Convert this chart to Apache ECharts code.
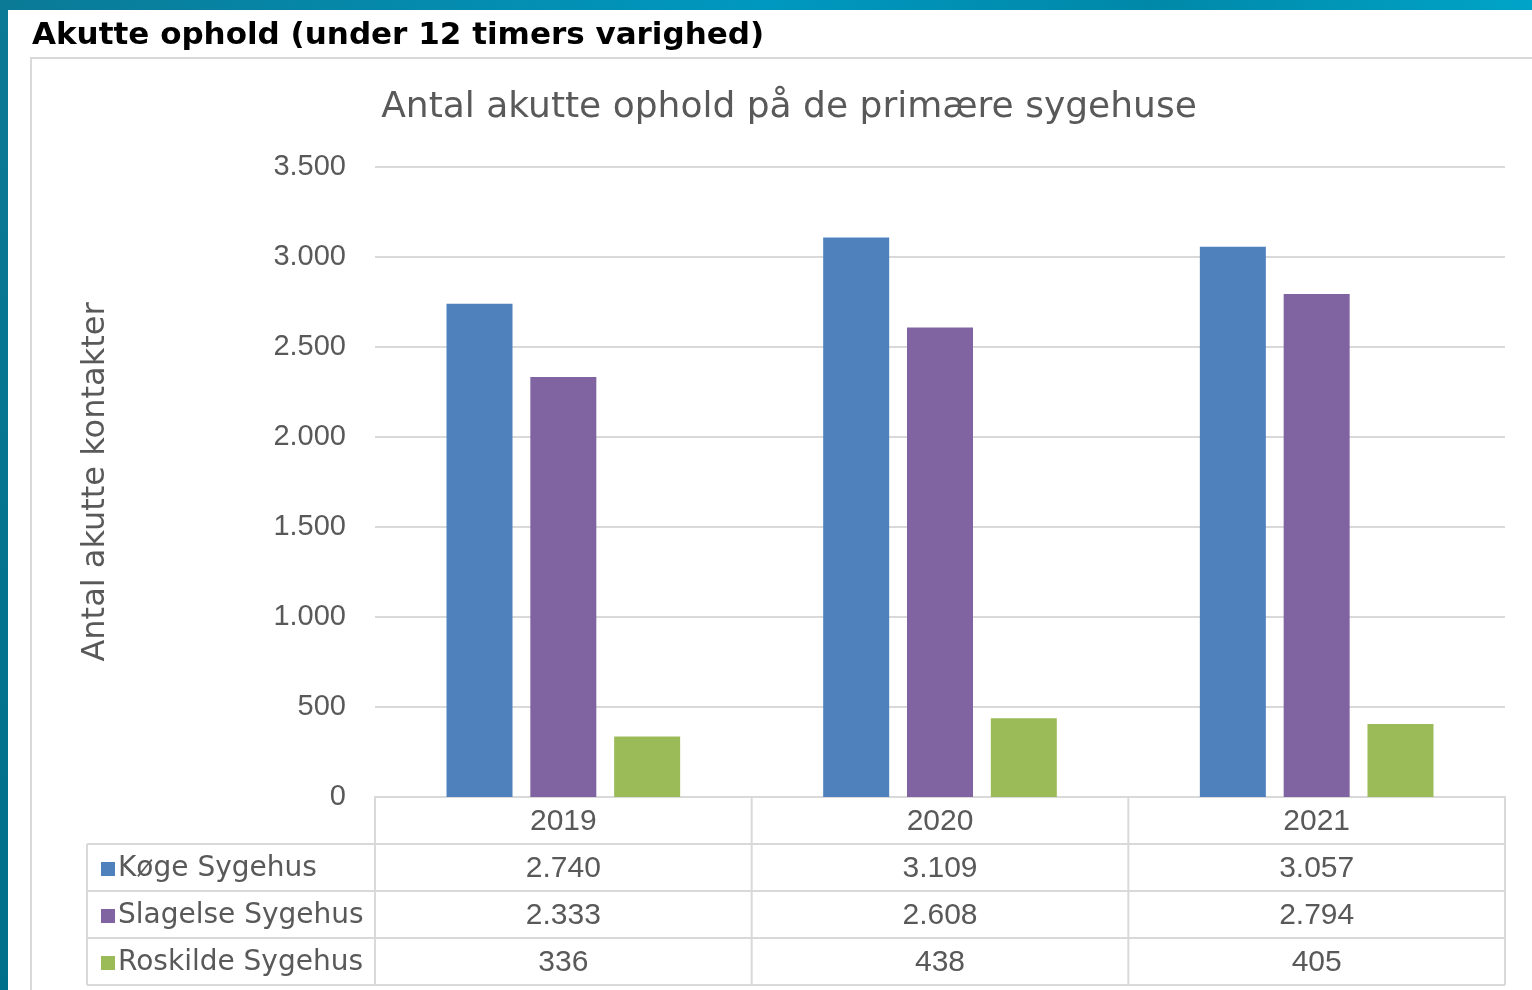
<!DOCTYPE html>
<html>
<head>
<meta charset="utf-8">
<script src="https://cdn.jsdelivr.net/npm/echarts@6/dist/echarts.min.js"></script>
<style>
html,body{margin:0;padding:0;width:1532px;height:990px;overflow:hidden;background:#fff;}
#c{width:1532px;height:990px;}
</style>
</head>
<body>
<div id="c"></div>
<script>
const categories = ['2019', '2020', '2021'];
const seriesNames = ['Køge Sygehus', 'Slagelse Sygehus', 'Roskilde Sygehus'];
const koege = [2740, 3109, 3057];
const slagelse = [2333, 2608, 2794];
const roskilde = [336, 438, 405];
const yTicks = [0, 500, 1000, 1500, 2000, 2500, 3000, 3500];
const pageTitle = 'Akutte ophold (under 12 timers varighed)';
const chartTitle = 'Antal akutte ophold på de primære sygehuse';
const yAxisTitle = 'Antal akutte kontakter';

const seriesValues = [koege, slagelse, roskilde];
const colors = ['#4f81bd', '#8064a2', '#9bbb59'];
const FONT = '"DejaVu Sans", Lato, sans-serif';
const NUMFONT = '"Liberation Sans", Arial, sans-serif';
const TXT = '#595959';
const LINE = '#d9d9d9';

function fmt(v) { return String(v).replace(/\B(?=(\d{3})+(?!\d))/g, '.'); }

const G = { left: 375, right: 27, top: 167, bottom: 193 };
const W = 1532, H = 990;
const gx0 = G.left, gx1 = W - G.right, gy1 = H - G.bottom;
const rowH = 47;
const tableLeft = 87;

const graphics = [];
// blue frame
graphics.push({ type: 'rect', shape: { x: 0, y: 0, width: W, height: 10 }, style: { fill: new echarts.graphic.LinearGradient(0, 0, 1, 0, [{ offset: 0, color: '#0a7a96' }, { offset: 0.5, color: '#0098c0' }, { offset: 0.75, color: '#0088a8' }, { offset: 1, color: '#00a4c8' }]) }, z: 0 });
graphics.push({ type: 'rect', shape: { x: 0, y: 0, width: 8, height: H }, style: { fill: new echarts.graphic.LinearGradient(0, 0, 0, 1, [{ offset: 0, color: '#0a7a96' }, { offset: 1, color: '#006f8a' }]) }, z: 0 });
// chart box border
graphics.push({ type: 'polyline', shape: { points: [[31, H], [31, 58], [W, 58]] }, style: { stroke: LINE, lineWidth: 2, fill: null }, z: 1 });
// page title
graphics.push({ type: 'text', left: 32, top: 20, style: { text: pageTitle, font: 'bold 31px ' + FONT, fill: '#000' }, z: 2 });

// table lines
const colW = (gx1 - gx0) / categories.length;
const tableBottom = gy1 + rowH * (seriesNames.length + 1);
for (let r = 1; r <= seriesNames.length + 1; r++) {
  const y = gy1 + r * rowH;
  graphics.push({ type: 'line', shape: { x1: tableLeft, y1: y, x2: gx1, y2: y }, style: { stroke: LINE, lineWidth: 2 }, z: 1 });
}
graphics.push({ type: 'line', shape: { x1: tableLeft, y1: gy1 + rowH, x2: tableLeft, y2: tableBottom }, style: { stroke: LINE, lineWidth: 2 }, z: 1 });
for (let i = 0; i <= categories.length; i++) {
  const x = gx0 + i * colW;
  graphics.push({ type: 'line', shape: { x1: x, y1: gy1, x2: x, y2: tableBottom }, style: { stroke: LINE, lineWidth: 2 }, z: 1 });
}

const option = {
  backgroundColor: '#fff',
  animation: false,
  title: {
    text: chartTitle,
    left: 784, textAlign: 'center', top: 85,
    textStyle: { fontFamily: FONT, fontSize: 36, fontWeight: 'normal', color: TXT }
  },
  legend: {
    orient: 'vertical',
    left: 96, top: 849,
    itemWidth: 14, itemHeight: 14, itemGap: 17,
    icon: 'rect',
    data: seriesNames,
    textStyle: { fontFamily: FONT, fontSize: 28, color: TXT, lineHeight: 30, padding: [0, 0, 0, -2] },
    selectedMode: false
  },
  grid: { left: G.left, right: G.right, top: G.top, bottom: G.bottom, containLabel: false },
  xAxis: {
    type: 'category',
    data: categories,
    axisLine: { show: true, lineStyle: { color: LINE, width: 2 } },
    axisTick: { show: false },
    axisLabel: {
      margin: 1,
      interval: 0,
      formatter: function (v, idx) {
        const lines = [v];
        seriesValues.forEach(s => lines.push(fmt(s[idx])));
        return lines.join('\n');
      },
      fontFamily: NUMFONT, fontSize: 30, color: TXT, lineHeight: rowH
    }
  },
  yAxis: {
    type: 'value',
    min: 0, max: 3500, interval: 500,
    name: yAxisTitle,
    nameLocation: 'middle',
    nameRotate: 90,
    nameGap: 263,
    nameTextStyle: { fontFamily: FONT, fontSize: 32, color: TXT },
    axisLine: { show: false },
    axisTick: { show: false },
    splitLine: { lineStyle: { color: LINE, width: 2 } },
    axisLabel: {
      margin: 29,
      fontFamily: NUMFONT, fontSize: 29, color: TXT,
      formatter: function (v) { return yTicks.indexOf(v) >= 0 ? fmt(v) : ''; }
    }
  },
  series: seriesNames.map((n, i) => ({
    name: n,
    type: 'bar',
    data: seriesValues[i],
    barWidth: 66,
    barGap: '27%',
    itemStyle: { color: colors[i] }
  })),
  graphic: graphics
};

const chart = echarts.init(document.getElementById('c'), null, { renderer: 'canvas' });
chart.setOption(option);
</script>
</body>
</html>
